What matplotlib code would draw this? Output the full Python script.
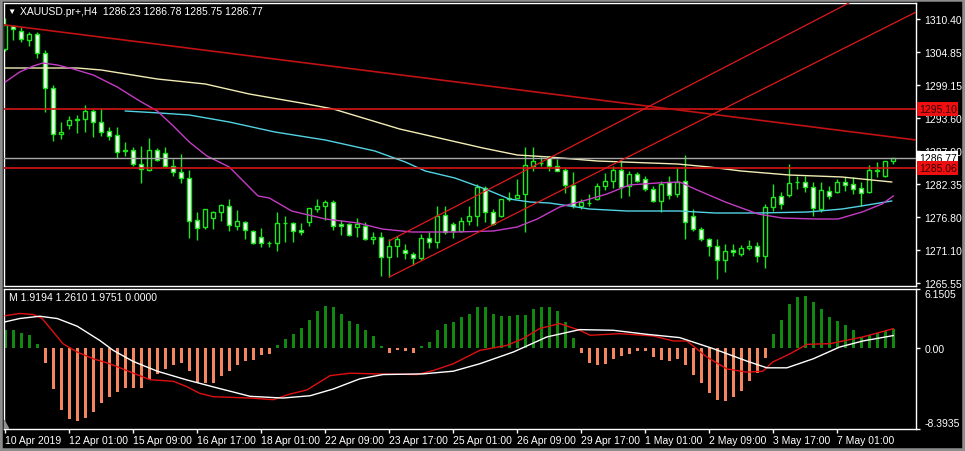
import numpy as np
import matplotlib.pyplot as plt
import matplotlib.transforms as mtransforms
from matplotlib.patches import Rectangle

plt.rcParams['font.family'] = ['Liberation Sans', 'DejaVu Sans']

# XAUUSD H4 candles, 10 Apr 2019 17:00 .. 7 May 2019
opens = [1305.30, 1309.21, 1308.36, 1306.83, 1307.85, 1304.62, 1298.67, 1290.85, 1292.38, 1293.23,
         1293.40, 1294.76, 1292.89, 1291.36, 1290.68, 1287.96, 1288.13, 1285.75, 1284.73, 1288.13,
         1287.62, 1285.41, 1284.39, 1283.37, 1276.23, 1275.04, 1276.57, 1277.59, 1278.61, 1275.21,
         1275.90, 1274.36, 1273.34, 1272.32, 1272.32, 1275.72, 1275.72, 1274.53, 1275.89, 1278.10,
         1278.61, 1279.29, 1275.55, 1275.55, 1275.04, 1275.21, 1273.00, 1273.34, 1269.94, 1271.81,
         1271.13, 1270.45, 1269.77, 1273.17, 1272.49, 1277.08, 1275.55, 1274.36, 1276.06, 1276.91,
         1281.67, 1277.59, 1276.91, 1279.80, 1279.97, 1280.65, 1285.41, 1285.92, 1286.94, 1285.41,
         1284.73, 1282.18, 1278.61, 1279.12, 1279.80, 1282.01, 1282.86, 1284.73, 1282.01, 1284.05,
         1283.20, 1281.50, 1279.46, 1282.69, 1280.65, 1282.86, 1276.91, 1274.70, 1273.00, 1271.81,
         1269.43, 1271.13, 1270.45, 1271.47, 1271.81, 1270.11, 1278.44, 1280.31, 1280.48, 1282.69,
         1282.69, 1281.84, 1278.10, 1281.16, 1280.99, 1282.69, 1282.35, 1281.67, 1280.99, 1284.56,
         1283.71, 1286.23]
highs = [1310.57, 1309.38, 1309.04, 1308.19, 1308.19, 1305.13, 1299.18, 1292.89, 1293.91, 1294.08,
         1295.78, 1295.10, 1295.27, 1292.04, 1292.04, 1289.49, 1288.64, 1288.81, 1290.17, 1288.47,
         1288.64, 1286.60, 1287.45, 1284.73, 1277.59, 1278.10, 1277.76, 1278.95, 1279.80, 1277.93,
         1276.10, 1274.53, 1274.87, 1272.66, 1277.59, 1276.91, 1275.89, 1275.72, 1278.27, 1279.80,
         1279.63, 1279.63, 1276.23, 1275.72, 1276.57, 1275.89, 1274.19, 1274.19, 1273.00, 1273.51,
         1272.15, 1270.79, 1273.85, 1274.19, 1278.61, 1278.61, 1275.89, 1276.74, 1278.61, 1282.35,
         1282.01, 1278.10, 1279.80, 1280.99, 1283.20, 1288.64, 1288.64, 1286.94, 1287.11, 1286.60,
         1285.07, 1284.39, 1279.80, 1280.65, 1282.52, 1284.22, 1285.41, 1286.09, 1284.56, 1284.39,
         1283.71, 1282.01, 1282.86, 1283.71, 1285.24, 1287.28, 1278.10, 1275.04, 1273.17, 1273.00,
         1272.15, 1272.15, 1271.98, 1272.83, 1272.49, 1278.95, 1282.35, 1280.99, 1285.75, 1283.71,
         1283.71, 1282.69, 1282.69, 1282.01, 1283.20, 1283.54, 1283.54, 1282.69, 1285.58, 1286.09,
         1286.26, 1286.78]
lows = [1304.96, 1306.83, 1306.49, 1305.81, 1303.77, 1294.59, 1289.66, 1290.00, 1291.70, 1291.02,
        1291.19, 1290.34, 1290.51, 1289.83, 1286.77, 1287.11, 1285.41, 1282.52, 1284.56, 1286.26,
        1285.24, 1283.71, 1282.52, 1273.17, 1272.83, 1274.70, 1274.70, 1276.06, 1274.36, 1274.53,
        1273.00, 1272.15, 1271.64, 1271.64, 1270.96, 1272.49, 1272.49, 1273.68, 1275.21, 1277.59,
        1276.23, 1274.53, 1273.68, 1273.51, 1273.34, 1272.83, 1272.15, 1266.71, 1266.54, 1269.94,
        1269.60, 1268.58, 1269.43, 1271.47, 1271.47, 1273.85, 1273.17, 1274.19, 1275.38, 1275.21,
        1275.89, 1275.38, 1276.74, 1279.46, 1279.97, 1274.19, 1284.56, 1285.41, 1284.56, 1284.50,
        1280.82, 1278.27, 1278.10, 1278.61, 1279.63, 1281.33, 1281.67, 1279.97, 1280.31, 1282.69,
        1281.16, 1279.29, 1277.59, 1279.80, 1280.14, 1273.00, 1274.36, 1272.66, 1270.11, 1266.20,
        1267.39, 1270.11, 1270.11, 1271.13, 1269.09, 1268.07, 1277.76, 1278.10, 1280.14, 1281.50,
        1280.99, 1276.91, 1277.59, 1279.80, 1280.90, 1281.16, 1280.65, 1278.61, 1280.82, 1283.54,
        1283.60, 1285.75]
closes = [1309.38, 1308.70, 1307.00, 1307.85, 1304.62, 1298.67, 1290.85, 1291.19, 1293.23, 1293.40,
          1294.76, 1292.89, 1291.19, 1290.51, 1287.79, 1288.10, 1285.75, 1284.90, 1288.13, 1286.43,
          1285.41, 1284.39, 1283.37, 1276.06, 1274.87, 1278.10, 1277.59, 1278.78, 1275.38, 1276.06,
          1274.53, 1272.32, 1272.32, 1272.40, 1275.72, 1275.80, 1274.36, 1274.19, 1278.27, 1278.61,
          1279.29, 1275.21, 1275.21, 1273.68, 1275.55, 1273.00, 1273.34, 1269.94, 1271.81, 1273.00,
          1270.62, 1269.77, 1273.17, 1272.49, 1276.91, 1274.19, 1274.36, 1276.06, 1276.91, 1281.84,
          1277.59, 1275.55, 1279.80, 1279.97, 1280.48, 1285.58, 1286.26, 1286.00, 1285.41, 1284.56,
          1282.18, 1278.61, 1279.29, 1279.20, 1282.01, 1282.86, 1284.73, 1281.84, 1284.05, 1282.86,
          1281.50, 1279.46, 1282.35, 1280.48, 1282.69, 1275.89, 1274.70, 1273.00, 1271.81, 1269.43,
          1270.96, 1270.79, 1271.47, 1271.81, 1270.11, 1278.44, 1280.14, 1278.95, 1282.52, 1282.75,
          1281.84, 1278.27, 1281.33, 1280.31, 1282.69, 1282.18, 1281.50, 1280.82, 1284.73, 1284.73,
          1286.26, 1286.77]

# moving averages (bar index, price)
ma_slow_x = [0, 9, 12, 19, 25, 30.5, 37, 41, 49.3, 59.7, 64, 68, 74, 84, 88, 92, 98, 104.6, 110.8]
ma_slow_y = [1302.07, 1302.07, 1301.73, 1300.20, 1299.35, 1297.65, 1296.12, 1295.10, 1291.70, 1288.47,
             1287.28, 1286.94, 1286.26, 1285.75, 1285.24, 1284.56, 1283.88, 1283.54, 1282.69]
ma_mid_x = [15, 19.3, 23, 28, 33.7, 40, 46.2, 50, 52.5, 56.2, 60, 63, 65.6, 68, 70.6, 73, 77.7, 84.3,
            88.7, 94, 100.3, 104.6, 107, 110.8]
ma_mid_y = [1294.76, 1294.42, 1294.08, 1292.89, 1291.19, 1289.83, 1287.96, 1286.09, 1284.56, 1283.37,
            1281.50, 1279.80, 1279.29, 1279.12, 1278.61, 1278.10, 1277.76, 1277.76, 1277.42, 1277.42,
            1277.59, 1278.10, 1278.61, 1279.46]
ma_fast_x = [0, 1.8, 3.5, 4.7, 6.5, 8.5, 11, 14, 16.8, 19, 21, 23, 25.2, 28, 31.6, 33, 35.8, 40, 44.1,
             47.1, 50.8, 56.2, 61, 64, 66.5, 69.3, 72.2, 75.2, 78, 81.5, 84.3, 86.2, 90, 94.1, 97.1,
             101.2, 104.1, 107.1, 109.6, 111]
ma_fast_y = [1299.69, 1301.39, 1302.41, 1302.92, 1302.58, 1301.90, 1300.88, 1298.84, 1296.46, 1294.76,
             1292.21, 1289.49, 1287.11, 1285.24, 1280.31, 1279.97, 1277.76, 1276.40, 1275.72, 1274.70,
             1274.19, 1274.19, 1274.36, 1275.04, 1276.40, 1278.44, 1279.46, 1280.65, 1282.18, 1282.52,
             1282.69, 1281.50, 1279.29, 1277.25, 1276.57, 1276.40, 1276.40, 1277.59, 1278.95, 1280.31]

# drawn objects
hlines_red = [1295.10, 1285.06]
bid = 1286.77
trend_down = [(0, 1309.38), (111, 1290.32)]
chan_low = [(48, 1266.54), (104, 1304.85)]
chan_high = [(48, 1272.70), (104, 1312.10)]

price_ticks = [1310.40, 1304.85, 1299.15, 1293.60, 1287.90, 1282.35, 1276.80, 1271.10, 1265.55]

# oscillator subwindow
hist = [1.80, 1.89, 1.53, 1.29, 0.42, -1.56, -4.29, -6.48, -7.42, -7.65,
        -7.29, -6.66, -5.76, -5.09, -4.63, -4.18, -4.18, -4.18, -3.24, -2.70,
        -2.19, -1.84, -1.56, -2.43, -3.66, -3.66, -3.66, -2.90, -2.43, -1.84,
        -1.43, -1.26, -0.80, -0.70, 0.24, 0.94, 1.47, 2.06, 2.93, 3.84,
        4.36, 4.25, 3.55, 2.79, 2.51, 1.88, 1.22, 0.14, -0.52, -0.28,
        -0.39, -0.52, 0.14, 0.59, 1.80, 2.51, 2.68, 3.14, 3.45, 4.18,
        4.18, 3.45, 3.28, 3.28, 3.35, 3.35, 4.07, 4.25, 4.18, 3.77,
        2.62, 1.04, -0.52, -1.56, -1.84, -1.67, -1.15, -0.91, -0.70, -0.35,
        -0.39, -0.98, -1.32, -1.43, -1.15, -1.78, -2.79, -3.70, -4.70, -5.44,
        -5.58, -5.16, -4.46, -3.42, -2.65, -1.04, 1.47, 2.93, 4.50, 5.31,
        5.40, 4.70, 3.98, 3.21, 2.79, 2.40, 1.88, 1.12, 1.29, 1.56,
        1.71, 1.9194]
sig_red_x = [0, 1.8, 3.5, 4.6, 6, 7.2, 9, 11, 13.1, 16, 18.1, 21, 22.7, 24.3, 26, 30.6, 33.5, 35.6,
             37.7, 40.6, 43.1, 46.5, 51.5, 53.5, 56, 59.3, 62.7, 64.7, 66.8, 69.3, 71.8, 73.1, 76.8,
             81, 83.5, 85.2, 87.7, 90.2, 92.7, 94.7, 95.9, 98.1, 100.2, 103.1, 107.2, 111]
sig_red_y = [3.32, 3.56, 3.45, 3.03, 1.64, 0.42, -0.45, -1.15, -1.67, -2.65, -3.32, -3.49, -4.05, -4.74,
             -5.09, -5.23, -5.40, -4.81, -4.39, -2.90, -2.65, -2.72, -2.79, -2.37, -1.67, -0.28, 0.24,
             0.94, 1.99, 2.51, 1.81, 1.29, 1.46, 1.22, 0.70, 0.70, -0.97, -2.20, -2.54, -2.44, -1.50,
             -0.63, 0.35, 0.42, 1.12, 1.9751]
sig_white_x = [0, 1.8, 4.3, 6.5, 9, 11.8, 13.5, 16, 19, 22.7, 26.5, 30.6, 34.7, 38.1, 41, 44.3, 47.2,
               52.2, 56, 59.3, 63.5, 67.7, 71.8, 76, 80.2, 84.3, 88.5, 92.7, 95.2, 97.7, 101, 104.3,
               107.2, 111]
sig_white_y = [2.69, 3.03, 3.27, 3.03, 2.23, 0.76, -0.28, -1.43, -2.44, -3.35, -4.18, -5.05, -5.23,
               -4.99, -4.29, -3.24, -2.79, -2.72, -2.44, -1.67, -0.45, 1.12, 1.88, 1.81, 1.39, 1.05,
               -0.10, -1.39, -2.09, -2.09, -1.15, 0.07, 0.70, 1.2610]
osc_max, osc_min = 6.1505, -8.3935

time_ticks = list(range(0, 112, 8))
time_labels = ['10 Apr 2019', '12 Apr 01:00', '15 Apr 09:00', '16 Apr 17:00', '18 Apr 01:00',
               '22 Apr 09:00', '23 Apr 17:00', '25 Apr 01:00', '26 Apr 09:00', '29 Apr 17:00',
               '1 May 01:00', '2 May 09:00', '3 May 17:00', '7 May 01:00']

GREEN = '#1EE61E'
RED = '#D41414'
FS = 7.5

W, H = 965, 452
def frac(x0, y0, x1, y1):
    return [x0 / W, 1 - y1 / H, (x1 - x0) / W, (y1 - y0) / H]

fig = plt.figure(figsize=(W / 100, H / 100), dpi=100, facecolor='black')
ax = fig.add_axes(frac(4, 4, 916, 287))
ax2 = fig.add_axes(frac(4, 289.5, 916, 429.5))
fig.patches.append(Rectangle((0, 0), 1, 1, transform=fig.transFigure, fill=False,
                             ec='#8c8c8c', lw=4, zorder=0))

for a in (ax, ax2):
    a.set_facecolor('black')
    for s in a.spines.values():
        s.set_color('white')
        s.set_linewidth(1)
    a.set_xlim(-0.16, 113.84)

# candles
idx = np.arange(len(opens))
o, h, l, c = map(np.array, (opens, highs, lows, closes))
up = c >= o
lo = np.minimum(o, c)
bh = np.maximum(np.abs(c - o), 0.01)
ax.vlines(idx, l, h, color=GREEN, lw=1, zorder=2)
ax.bar(idx[up], bh[up], 0.52, bottom=lo[up], color='black', edgecolor=GREEN, lw=1, zorder=3)
ax.bar(idx[~up], bh[~up], 0.52, bottom=lo[~up], color='white', edgecolor=GREEN, lw=1, zorder=3)

# moving averages
ax.plot(ma_slow_x, ma_slow_y, color='#F2EDB4', lw=1, zorder=4)
ax.plot(ma_mid_x, ma_mid_y, color='#52D3E3', lw=1, zorder=4)
ax.plot(ma_fast_x, ma_fast_y, color='#C43CC4', lw=1, zorder=4)

# objects
ax.axhline(bid, color='#A8A8A8', lw=1, zorder=5)
for p in hlines_red:
    ax.axhline(p, color=RED, lw=1.2, zorder=6)
ax.axline(trend_down[0], trend_down[1], color='#C01212', lw=1.2, zorder=6)
for ch in (chan_low, chan_high):
    (x0, y0), (x1, y1) = ch
    k = (y1 - y0) / (x1 - x0)
    ax.plot([x0, 120], [y0, y0 + k * (120 - x0)], color='#E01A1A', lw=0.9, zorder=6)

ax.set_ylim(1265.01, 1313.12)
ax.yaxis.tick_right()
ax.set_yticks(price_ticks)
ax.set_yticklabels(['%.2f' % v for v in price_ticks])
ax.tick_params(axis='y', colors='white', length=3, width=1, labelsize=FS, pad=3)
ax.tick_params(axis='x', bottom=False, labelbottom=False)

tr = mtransforms.blended_transform_factory(ax.transAxes, ax.transData)
ax.text(1.003, bid, '%.2f' % bid, transform=tr, color='black', fontsize=FS, va='center', ha='left',
        clip_on=False, zorder=10, bbox=dict(boxstyle='square,pad=0.18', fc='white', ec='none'))
for p in hlines_red:
    ax.text(1.003, p, '%.2f' % p, transform=tr, color='#3a0000', fontsize=FS, va='center', ha='left',
            clip_on=False, zorder=10, bbox=dict(boxstyle='square,pad=0.18', fc='#EE1010', ec='none'))

ax.text(0.004, 0.972, '\u25bc', transform=ax.transAxes, color='white', fontsize=6, va='center')
ax.text(0.018, 0.972, 'XAUUSD.pr+,H4  %.2f %.2f %.2f %.2f' % (opens[-1], highs[-1], lows[-1], closes[-1]),
        transform=ax.transAxes, color='white', fontsize=FS, va='center')

# oscillator
hv = np.array(hist)
cols = np.where(hv >= 0, '#0F8A0F', '#F4865F')
ax2.bar(idx, hv, 0.38, color=cols, zorder=2)
ax2.plot(sig_red_x, sig_red_y, color='#E01010', lw=1, zorder=3)
ax2.plot(sig_white_x, sig_white_y, color='white', lw=1, zorder=3)
ax2.set_ylim(osc_min, osc_max)
ax2.yaxis.tick_right()
ax2.set_yticks([osc_max, 0, osc_min])
ax2.set_yticklabels(['', '0.00', ''])
ax2.tick_params(axis='y', colors='white', length=3, width=1, labelsize=FS, pad=3)
tr2 = mtransforms.blended_transform_factory(ax2.transAxes, ax2.transData)
ax2.text(1.009, osc_max, '%.4f' % osc_max, transform=tr2, color='white', fontsize=FS,
         va='top', ha='left', clip_on=False)
ax2.text(1.009, osc_min, '%.4f' % osc_min, transform=tr2, color='white', fontsize=FS,
         va='bottom', ha='left', clip_on=False)
ax2.text(0.0055, 0.94, 'M %.4f %.4f %.4f 0.0000' % (hist[-1], sig_white_y[-1], sig_red_y[-1]),
         transform=ax2.transAxes, color='white', fontsize=FS, va='center')
ax2.fill([0, 0.005, 0], [0, 0, 0.06], transform=ax2.transAxes, color='#909090', zorder=5)

ax2.set_xticks(time_ticks)
ax2.set_xticklabels(time_labels, ha='left')
ax2.tick_params(axis='x', colors='white', length=3, width=1, labelsize=FS, pad=2)

fig.savefig('out.png', dpi=100, facecolor='black')
